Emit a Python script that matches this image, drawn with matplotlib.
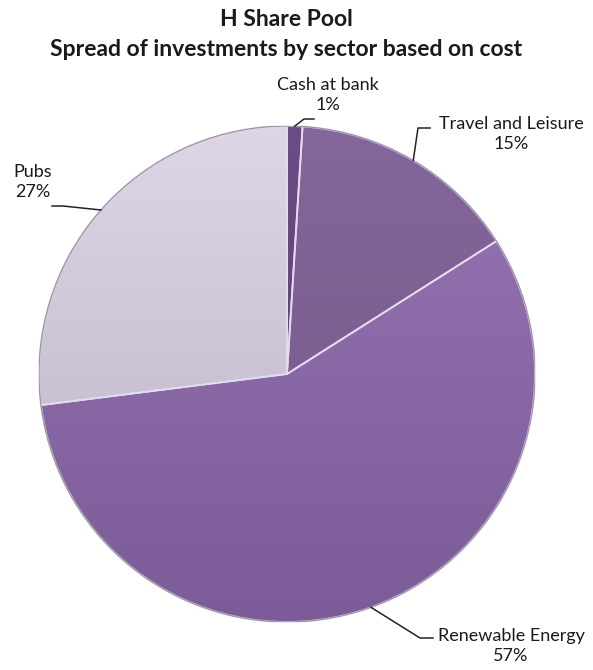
import matplotlib.pyplot as plt
from matplotlib.colors import LinearSegmentedColormap
import numpy as np

# sector split of the pool, clockwise from 12 o'clock
sectors = ['Cash at bank', 'Travel and Leisure', 'Renewable Energy', 'Pubs']
shares = [1, 15, 57, 27]

# top / bottom colour of each wedge (gives the shaded look)
top_cols = ['#6a4d84', '#84679a', '#9775b3', '#ded6e7']
bot_cols = ['#553a6d', '#745889', '#7b5b98', '#b8b1c3']

W, H = 593, 670
fig = plt.figure(figsize=(W / 100, H / 100), dpi=100)
fig.patch.set_facecolor('white')

def fx(px):
    return px / W

def fy(py):
    return 1 - py / H

# square axes box so the pie comes out round
ax = fig.add_axes([fx(39), fy(622), 496 / W, 496 / H])
wedges, _ = ax.pie(shares, startangle=90, counterclock=False, radius=1,
                   wedgeprops=dict(linewidth=0))
ax.set_aspect('auto')
ax.set_xlim(-1, 1)
ax.set_ylim(-1, 1)
ax.axis('off')

grad = np.linspace(0, 1, 256).reshape(-1, 1)
for w, c1, c2 in zip(wedges, top_cols, bot_cols):
    w.set_facecolor('none')
    cm = LinearSegmentedColormap.from_list('w', [c1, c2])
    im = ax.imshow(grad, cmap=cm, extent=(-1, 1, -1, 1), aspect='auto',
                   origin='upper', zorder=1)
    im.set_clip_path(w)

# light bevel lines between the wedges
edges, _ = ax.pie(shares, startangle=90, counterclock=False, radius=1,
                  wedgeprops=dict(facecolor='none', edgecolor='#e4dcee',
                                  linewidth=1.3))
for e in edges:
    e.set_zorder(2)
# soft dark rim round the outside
rim = plt.Circle((0, 0), 1, facecolor='none', edgecolor='#6e6478',
                 linewidth=0.9, alpha=0.6, zorder=3)
ax.add_patch(rim)
ax.set_aspect('auto')
ax.set_xlim(-1, 1)
ax.set_ylim(-1, 1)

plt.rcParams['font.family'] = ['Lato', 'DejaVu Sans']

fig.text(fx(286), fy(19), 'H Share Pool', ha='center', va='center',
         fontsize=16.5, fontweight='bold', color='#1a1a1a')
fig.text(fx(286), fy(50), 'Spread of investments by sector based on cost',
         ha='center', va='center', fontsize=16.5, fontweight='bold',
         color='#1a1a1a')

# label text centre (px), elbow and line end (px)
label_pos = [(328, 95), (511, 134), (511, 646), (33, 182)]
elbows = [(304, 119), (418, 128), (420, 638), (63, 206)]
ends = [(314, 119), (430, 128), (433, 638), (52, 206)]

# wedge mid angles from the shares
bounds = 90 - 360 * np.concatenate([[0], np.cumsum(shares)]) / sum(shares)
mids = (bounds[:-1] + bounds[1:]) / 2

for name, val, mid, lp, el, en in zip(sectors, shares, mids, label_pos,
                                       elbows, ends):
    ex, ey = np.cos(np.radians(mid)), np.sin(np.radians(mid))
    px, py = ax.transData.transform((ex, ey))
    xs = [fx(px), fx(el[0]), fx(en[0])]
    ys = [py / H, fy(el[1]), fy(en[1])]
    fig.add_artist(plt.Line2D(xs, ys, color='#222222', linewidth=1.1))
    fig.text(fx(lp[0]), fy(lp[1]), f'{name}\n{val}%', ha='center',
             va='center', fontsize=13, color='#1a1a1a', linespacing=1.3)

fig.savefig('out.png', dpi=100, facecolor='white')
